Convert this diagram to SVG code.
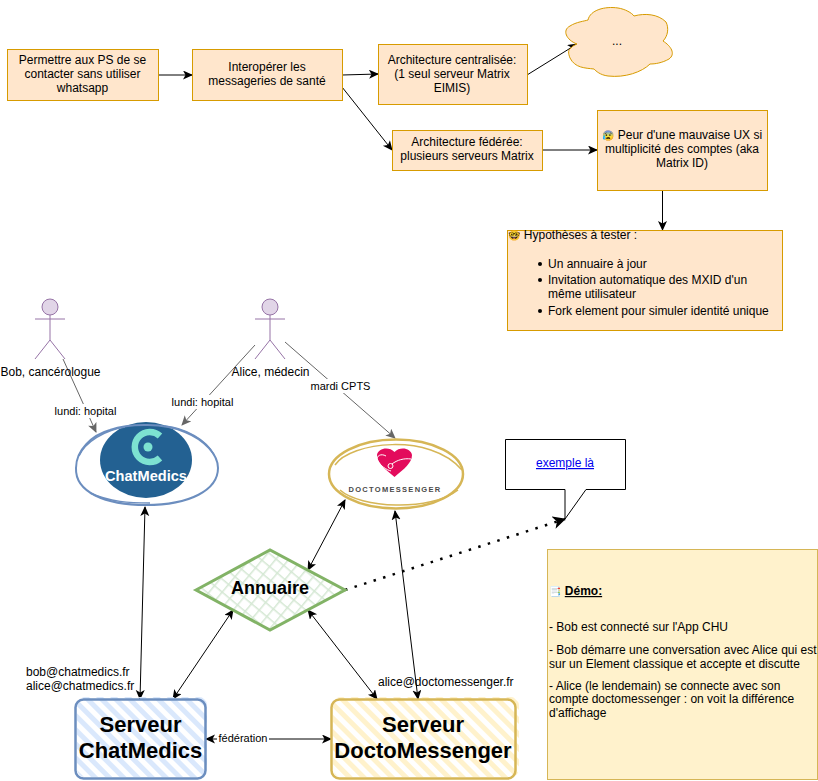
<svg xmlns="http://www.w3.org/2000/svg" width="818" height="781" viewBox="0 0 818 781">
<style>
text{font-family:"Liberation Sans",Arial,sans-serif;font-size:12px;fill:#000}
.c{text-anchor:middle}
.o{fill:#ffe6cc;stroke:#d79b00;stroke-width:1}
.l{fill:none;stroke:#000;stroke-width:1}
.g{fill:none;stroke:#666;stroke-width:1}
.lb{font-size:11px;text-anchor:middle}
.bg{fill:#fff}
.act{fill:none;stroke:#9673a6;stroke-width:1}
.b{font-weight:bold}
.e{font-family:"Noto Color Emoji","DejaVu Sans",sans-serif;font-size:10px}
.srv{font-size:22px;font-weight:bold;text-anchor:middle}
</style>
<defs>
<marker id="a" markerWidth="12" markerHeight="12" refX="9" refY="4.500" orient="auto-start-reverse" markerUnits="userSpaceOnUse"><path d="M0 0L10 4.500L0 9L2.500 4.500Z" fill="#000"/></marker>
<marker id="ag" markerWidth="12" markerHeight="12" refX="9" refY="4.500" orient="auto-start-reverse" markerUnits="userSpaceOnUse"><path d="M0 0L10 4.500L0 9L2.500 4.500Z" fill="#666"/></marker>
<marker id="ab" markerWidth="16" markerHeight="16" refX="12" refY="6.500" orient="auto" markerUnits="userSpaceOnUse"><path d="M0 0L13 6.500L0 13L3.500 6.500Z" fill="#000"/></marker>
<pattern id="hb" width="10" height="10" patternUnits="userSpaceOnUse" patternTransform="rotate(45)"><rect width="10" height="5" fill="#dae8fc"/></pattern>
<pattern id="hy" width="10" height="10" patternUnits="userSpaceOnUse" patternTransform="rotate(45)"><rect width="10" height="5" fill="#fff2cc"/></pattern>
<pattern id="hg" width="10" height="10" patternUnits="userSpaceOnUse" patternTransform="rotate(40)"><path d="M0 0H10M0 0V10" stroke="#d5e8d4" stroke-width="3" fill="none"/></pattern>
</defs>

<g id="connectors">
<path class="l" marker-end="url(#a)" d="M158 75H192"/>
<path class="l" marker-end="url(#a)" d="M342 75L378 74"/>
<path class="l" marker-end="url(#a)" d="M342 87L392 150"/>
<path class="l" marker-end="url(#a)" d="M527 75L577 44"/>
<path class="l" marker-end="url(#a)" d="M542 150H597"/>
<path class="l" marker-end="url(#a)" d="M662.500 190V230"/>
<path class="g" marker-end="url(#ag)" d="M63 359L96 432"/>
<path class="g" marker-end="url(#ag)" d="M255 345L182 425"/>
<path class="g" marker-end="url(#ag)" d="M285 342L395 438"/>
<path class="l" marker-start="url(#a)" marker-end="url(#a)" d="M145 507L140 699"/>
<path class="l" marker-start="url(#a)" marker-end="url(#a)" d="M345 500L308 570"/>
<path class="l" marker-start="url(#a)" marker-end="url(#a)" d="M395 511L418 699"/>
<path class="l" marker-start="url(#a)" marker-end="url(#a)" d="M233 610L173 699"/>
<path class="l" marker-start="url(#a)" marker-end="url(#a)" d="M308 610L377 699"/>
<path class="l" marker-start="url(#a)" marker-end="url(#a)" d="M206 739H331"/>
<path fill="none" stroke="#000" stroke-width="2.500" stroke-dasharray="2.500 7.500" marker-end="url(#ab)" d="M345 590L565 519"/>
<rect class="bg" x="53" y="404" width="65" height="14"/>
<text class="lb" x="85.500" y="415">lundi: hopital</text>
<rect class="bg" x="170" y="395" width="65" height="14"/>
<text class="lb" x="202.500" y="406">lundi: hopital</text>
<rect class="bg" x="309" y="379" width="63" height="14"/>
<text class="lb" x="340.500" y="390">mardi CPTS</text>
<rect class="bg" x="217" y="732" width="52" height="14"/>
<text class="lb" x="243" y="742">fédération</text>
</g>

<g id="n1"><rect class="o" x="7.500" y="49.500" width="151" height="51"/><text class="c" x="82.500" y="64">Permettre aux PS de se</text><text class="c" x="82.500" y="78">contacter sans utiliser</text><text class="c" x="82.500" y="92">whatsapp</text></g>
<g id="n2"><rect class="o" x="192.500" y="49.500" width="150" height="51"/><text class="c" x="267" y="71">Interopérer les</text><text class="c" x="267" y="85">messageries de santé</text></g>
<g id="n3"><rect class="o" x="378.500" y="44.500" width="149" height="60"/><text class="c" x="452" y="64">Architecture centralisée:</text><text class="c" x="452" y="78">(1 seul serveur Matrix</text><text class="c" x="452" y="92">EIMIS)</text></g>
<g id="n4"><path class="o" d="M577 44C566 40 562 30 570 26C576 22 585 21 588 20C590 10 605 6 618 8C625 9 632 13 634 16C645 13 658 14 666 22C669 28 668 36 663 41C671 46 676 54 669 59C662 63 655 64 650 64C642 72 625 78 608 76C600 75 596 71 594 69C585 68 575 68 570 58C568 53 568 50 571 48C572 46 575 45 577 44Z"/><text class="c" x="617" y="45">...</text></g>
<g id="n5"><rect class="o" x="392.500" y="130.500" width="150" height="40"/><text class="c" x="467" y="146">Architecture fédérée:</text><text class="c" x="467" y="160">plusieurs serveurs Matrix</text></g>
<g id="n6"><rect class="o" x="597.500" y="110.500" width="170" height="80"/><text class="c" x="682" y="139"><tspan class="e">😰</tspan> Peur d'une mauvaise UX si</text><text class="c" x="682" y="153">multiplicité des comptes (aka</text><text class="c" x="682" y="167">Matrix ID)</text></g>
<g id="n7"><rect class="o" x="507.500" y="230.500" width="275" height="100"/><text x="508" y="239"><tspan class="e">🤓</tspan> Hypothèses à tester :</text><circle cx="540" cy="264" r="2"/><circle cx="540" cy="280" r="2"/><circle cx="540" cy="311" r="2"/><text x="548" y="268">Un annuaire à jour</text><text x="548" y="284">Invitation automatique des MXID d'un</text><text x="548" y="298">même utilisateur</text><text x="548" y="315">Fork element pour simuler identité unique</text></g>

<g id="bob" class="act"><circle cx="50" cy="307" r="8" fill="#e1d5e7"/><path d="M50 315V340M35 319H65M35 359L50 340L65 359"/></g>
<text id="bob-label" class="c" x="50.500" y="376">Bob, cancérologue</text>
<g id="alice" class="act"><circle cx="270" cy="307" r="8" fill="#e1d5e7"/><path d="M270 315V340M255 319H285M255 359L270 340L285 359"/></g>
<text id="alice-label" class="c" x="270.500" y="376">Alice, médecin</text>

<g id="chatmedics"><ellipse cx="146" cy="460" rx="46" ry="38" fill="#236192"/>
<path fill="none" stroke="#6c8ebf" stroke-width="2" d="M76 468C76 450 92 435 110 430C130 423 165 423 185 432C205 440 218 455 218 468C218 490 190 505 146 505C105 505 75 492 76 468Z"/>
<path fill="none" stroke="#6c8ebf" stroke-width="1.500" d="M79 456C85 442 105 430 125 427M165 426C185 428 207 440 214 455M90 493C110 502 130 503 150 503"/>
<path d="M160 436A15 15 0 1 0 160 458" fill="none" stroke="#7de2d1" stroke-width="6.500"/><circle cx="148" cy="447" r="4.500" fill="#7de2d1"/><text class="c b" x="146" y="481" textLength="82" lengthAdjust="spacingAndGlyphs" style="fill:#fff;font-size:15px">ChatMedics</text></g>

<g id="doctomessenger"><ellipse cx="396" cy="474" rx="67" ry="34.500" fill="#fff" stroke="#d6b656" stroke-width="2.500"/><path fill="none" stroke="#d6b656" stroke-width="1.500" d="M335 465C350 442 430 432 462 470M340 490C360 508 430 512 458 490"/><path d="M394.500 477C385 469 377 463 377 455C378 448 389 446 394.500 452C400 446 411 448 412 455C412 463 404 469 394.500 477Z" fill="#e30b5c"/><path d="M386 456C381 453 376 456 377.500 460C380 466 387 470 391 471M392 464C397 460 404 458 411 459" fill="none" stroke="#fff"/><circle cx="390.500" cy="466" r="2.500" fill="none" stroke="#fff"/><text class="c b" x="395" y="492" style="font-size:7.500px;letter-spacing:1.300px;fill:#4a4a4a">DOCTOMESSENGER</text></g>

<g id="annuaire"><path d="M196 590L270 550L345 590L270 630Z" fill="url(#hg)" stroke="#82b366" stroke-width="3"/><text class="c b" x="270" y="594" style="font-size:18px">Annuaire</text></g>

<g id="callout"><path d="M505.500 439.500H625.500V489.500H586L565 519V489.500H505.500Z" fill="#fff" stroke="#000"/><text class="c" x="565" y="467" style="fill:#0000ee;text-decoration:underline">exemple là</text></g>

<g id="demo"><rect x="547.500" y="549.500" width="270" height="230" fill="#fff2cc" stroke="#d6b656"/><text x="549" y="595"><tspan class="e">📑</tspan> <tspan class="b" text-decoration="underline">Démo:</tspan></text><text x="549" y="631">- Bob est connecté sur l'App CHU</text><text x="549" y="654">- Bob démarre une conversation avec Alice qui est</text><text x="549" y="668">sur un Element classique et accepte et discutte</text><text x="549" y="689.500">- Alice (le lendemain) se connecte avec son</text><text x="549" y="703">compte doctomessenger : on voit la différence</text><text x="549" y="716.500">d'affichage</text></g>

<g id="serveur-chatmedics"><rect x="77" y="697" width="130" height="80" rx="8" fill="url(#hb)"/><rect x="75.500" y="699.500" width="130" height="79" rx="8" fill="none" stroke="#6c8ebf" stroke-width="2.500"/><text class="srv" x="140.500" y="732">Serveur</text><text class="srv" x="140.500" y="758">ChatMedics</text></g>
<g id="serveur-doctomessenger"><rect x="333" y="697" width="186" height="80" rx="8" fill="url(#hy)"/><rect x="331.500" y="699.500" width="184" height="79" rx="8" fill="none" stroke="#d6b656" stroke-width="2.500"/><text class="srv" x="423" y="732">Serveur</text><text class="srv" x="423" y="758">DoctoMessenger</text></g>

<text id="mail-cm" x="26" y="676">bob@chatmedics.fr</text>
<text id="mail-cm2" x="26" y="690">alice@chatmedics.fr</text>
<text id="mail-dm" x="378" y="686">alice@doctomessenger.fr</text>
</svg>
